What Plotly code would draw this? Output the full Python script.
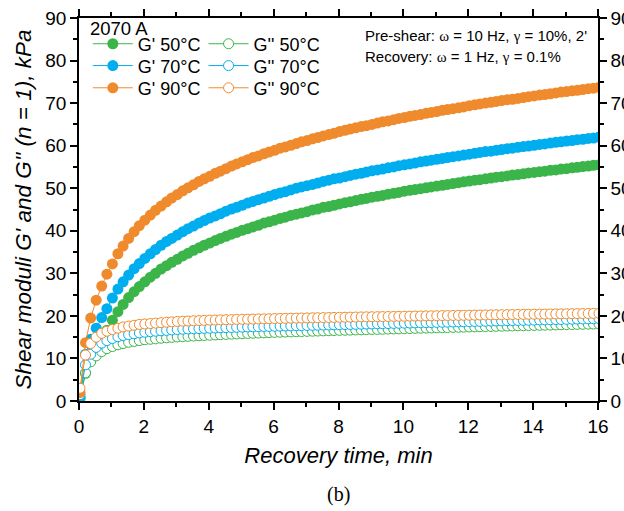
import plotly.graph_objects as go

# Recovery time, min
t = [0.03,0.20,0.36,0.53,0.70,0.86,1.03,1.20,1.36,1.53,1.70,1.86,2.03,2.20,2.36,2.53,2.70,2.86,
     3.03,3.20,3.36,3.53,3.70,3.86,4.03,4.20,4.36,4.53,4.70,4.86,5.03,5.20,5.36,5.53,5.70,5.86,
     6.03,6.20,6.36,6.53,6.70,6.86,7.03,7.20,7.36,7.53,7.70,7.86,8.03,8.20,8.36,8.53,8.70,8.86,
     9.03,9.20,9.36,9.53,9.70,9.86,10.03,10.20,10.36,10.53,10.70,10.86,11.03,11.20,11.36,11.53,11.70,11.86,
     12.03,12.20,12.36,12.53,12.70,12.86,13.03,13.20,13.36,13.53,13.70,13.86,14.03,14.20,14.36,14.53,14.70,14.86,
     15.03,15.20,15.36,15.53,15.70,15.86,16.03]

g1_50 = [0.5,6.5,9.5,11.8,14.2,16.6,
         19.0,21.0,22.7,24.3,25.7,26.9,
         28.0,29.1,30.0,31.0,31.8,32.6,
         33.3,34.1,34.7,35.4,36.0,36.6,
         37.1,37.7,38.2,38.7,39.2,39.6,
         40.1,40.5,40.9,41.3,41.8,42.1,
         42.5,42.9,43.2,43.6,43.9,44.2,
         44.5,44.9,45.1,45.5,45.7,46.0,
         46.3,46.6,46.8,47.1,47.4,47.6,
         47.9,48.1,48.3,48.6,48.8,49.0,
         49.3,49.5,49.7,49.9,50.1,50.3,
         50.5,50.7,50.9,51.1,51.3,51.5,
         51.7,51.9,52.0,52.2,52.4,52.6,
         52.7,52.9,53.1,53.2,53.4,53.6,
         53.7,53.9,54.0,54.2,54.3,54.5,
         54.6,54.8,54.9,55.1,55.2,55.4,
         55.5]

g2_50 = [0.8,6.6,9.2,10.6,11.6,12.3,
         12.8,13.2,13.5,13.8,14.0,14.2,
         14.4,14.5,14.6,14.75,14.85,14.95,
         15.05,15.12,15.19,15.26,15.33,15.4,
         15.46,15.52,15.58,15.64,15.7,15.76,
         15.82,15.87,15.92,15.97,16.02,16.07,
         16.12,16.16,16.2,16.24,16.28,16.32,
         16.36,16.4,16.44,16.48,16.52,16.56,
         16.6,16.63,16.66,16.7,16.73,16.76,
         16.8,16.83,16.86,16.9,16.93,16.96,
         17.0,17.03,17.06,17.1,17.13,17.16,
         17.2,17.23,17.26,17.3,17.33,17.36,
         17.4,17.43,17.46,17.49,17.52,17.55,
         17.58,17.61,17.64,17.67,17.7,17.73,
         17.76,17.79,17.82,17.85,17.88,17.91,
         17.94,17.97,18.0,18.03,18.06,18.09,
         18.12]

g1_70 = [1.0,11.0,14.5,17.1,19.6,21.7,
         24.2,26.3,28.0,29.6,31.1,32.3,
         33.5,34.6,35.6,36.6,37.5,38.2,
         39.0,39.8,40.5,41.1,41.8,42.4,
         43.0,43.5,44.0,44.6,45.1,45.5,
         46.0,46.5,46.9,47.3,47.7,48.1,
         48.5,48.9,49.2,49.6,50.0,50.3,
         50.6,50.9,51.2,51.6,51.9,52.2,
         52.4,52.7,53.0,53.3,53.5,53.8,
         54.1,54.3,54.5,54.8,55.0,55.3,
         55.5,55.7,55.9,56.2,56.4,56.6,
         56.8,57.0,57.2,57.4,57.6,57.8,
         58.0,58.2,58.4,58.6,58.7,58.9,
         59.1,59.3,59.4,59.6,59.8,59.9,
         60.1,60.3,60.4,60.6,60.8,60.9,
         61.1,61.2,61.4,61.5,61.7,61.8,
         62.0]

g2_70 = [1.5,8.5,11.0,12.6,13.6,14.2,
         14.7,15.1,15.4,15.6,15.8,16.0,
         16.15,16.3,16.4,16.5,16.6,16.7,
         16.8,16.86,16.92,16.97,17.02,17.07,
         17.1,17.15,17.2,17.24,17.28,17.32,
         17.36,17.4,17.43,17.46,17.5,17.53,
         17.56,17.6,17.63,17.66,17.69,17.72,
         17.75,17.78,17.81,17.84,17.87,17.9,
         17.93,17.96,17.99,18.02,18.05,18.08,
         18.11,18.14,18.17,18.2,18.23,18.26,
         18.29,18.32,18.35,18.38,18.41,18.44,
         18.47,18.5,18.53,18.56,18.59,18.62,
         18.65,18.68,18.71,18.74,18.77,18.8,
         18.83,18.86,18.89,18.92,18.95,18.98,
         19.01,19.04,19.07,19.1,19.13,19.16,
         19.19,19.22,19.25,19.28,19.31,19.34,
         19.37]

g1_90 = [2.0,13.7,19.5,23.7,27.0,29.8,
         32.2,34.6,36.4,38.2,39.8,41.2,
         42.5,43.7,44.8,45.8,46.8,47.7,
         48.5,49.4,50.1,50.8,51.6,52.2,
         52.8,53.5,54.0,54.6,55.2,55.7,
         56.2,56.7,57.2,57.6,58.1,58.5,
         58.9,59.4,59.7,60.1,60.5,60.9,
         61.2,61.6,61.9,62.3,62.6,62.9,
         63.3,63.6,63.9,64.2,64.5,64.7,
         65.0,65.3,65.6,65.8,66.1,66.4,
         66.6,66.9,67.1,67.3,67.6,67.8,
         68.0,68.3,68.5,68.7,68.9,69.1,
         69.4,69.6,69.8,70.0,70.2,70.4,
         70.6,70.8,70.9,71.1,71.3,71.5,
         71.7,71.9,72.0,72.2,72.4,72.6,
         72.7,72.9,73.0,73.2,73.4,73.5,
         73.7]

g2_90 = [3.0,10.8,13.5,15.0,15.9,16.4,
         16.8,17.1,17.4,17.6,17.8,18.0,
         18.1,18.2,18.3,18.4,18.5,18.6,
         18.7,18.75,18.8,18.85,18.9,18.95,
         19.0,19.03,19.07,19.1,19.13,19.17,
         19.2,19.22,19.25,19.28,19.3,19.33,
         19.37,19.4,19.42,19.45,19.47,19.5,
         19.52,19.55,19.57,19.6,19.62,19.64,
         19.67,19.69,19.71,19.73,19.76,19.78,
         19.8,19.82,19.84,19.86,19.88,19.9,
         19.92,19.94,19.96,19.98,20.0,20.02,
         20.04,20.06,20.08,20.1,20.12,20.14,
         20.16,20.18,20.2,20.22,20.24,20.26,
         20.28,20.3,20.32,20.34,20.35,20.37,
         20.39,20.41,20.42,20.44,20.46,20.48,
         20.5,20.52,20.53,20.55,20.57,20.58,
         20.6]

# name, values, colour, filled, legend id, legend column, legend row
series = [
    ("G' 50°C", g1_50, "#3BB54A", True, "legend", 0, 0),
    ("G'' 50°C", g2_50, "#3BB54A", False, "legend2", 1, 0),
    ("G' 70°C", g1_70, "#00AEEF", True, "legend3", 0, 1),
    ("G'' 70°C", g2_70, "#00AEEF", False, "legend4", 1, 1),
    ("G' 90°C", g1_90, "#F08B2D", True, "legend5", 0, 2),
    ("G'' 90°C", g2_90, "#F08B2D", False, "legend6", 1, 2),
]

FONT = "Liberation Sans, Arial, sans-serif"
LEG_X = [0.017, 0.24]
LEG_Y = [0.932, 0.875, 0.817]

fig = go.Figure()
legends = {}
for name, ys, col, filled, lg, cx, ry in series:
    if filled:
        marker = dict(symbol="circle", size=11, color=col, line=dict(width=0))
    else:
        marker = dict(symbol="circle", size=10, color="white", line=dict(width=1, color=col))
    fig.add_trace(go.Scatter(x=t, y=ys, name=name, mode="lines+markers",
                             line=dict(color=col, width=1), marker=marker,
                             legend=lg))
    legends[lg] = dict(x=LEG_X[cx], y=LEG_Y[ry], xanchor="left", yanchor="middle",
                       bgcolor="rgba(0,0,0,0)", borderwidth=0,
                       font=dict(family=FONT, size=18, color="black"), itemwidth=40)

# dummy trace to enable right axis
fig.add_trace(go.Scatter(x=[None], y=[None], yaxis="y2", showlegend=False))

axis_common = dict(showline=True, linecolor="black", linewidth=1.5,
                   ticks="outside", tickcolor="black", tickwidth=1.5, ticklen=7,
                   showgrid=False, zeroline=False,
                   tickfont=dict(family=FONT, size=19, color="black"))
minor_common = dict(ticks="outside", ticklen=4, tickcolor="black", tickwidth=1.5)

fig.update_layout(
    width=624, height=511,
    margin=dict(l=79, r=26, t=18, b=110, autoexpand=False),
    plot_bgcolor="white", paper_bgcolor="white",
    xaxis=dict(range=[0, 16], dtick=2, mirror="ticks",
               minor=dict(dtick=1, **minor_common),
               title=dict(text="<i>Recovery time, min</i>", font=dict(family=FONT, size=22, color="black"), standoff=12),
               automargin=False, **axis_common),
    yaxis=dict(range=[0, 90], dtick=10,
               minor=dict(dtick=5, **minor_common),
               title=dict(text="<i>Shear moduli G' and G'' (n = 1), kPa</i>", font=dict(family=FONT, size=22.5, color="black"), standoff=7),
               automargin=False, **axis_common),
    yaxis2=dict(range=[0, 90], dtick=10, overlaying="y", side="right",
                minor=dict(dtick=5, **minor_common),
                automargin=False, **axis_common),
    annotations=[
        dict(text="2070 A", x=0.017, y=1.006, xref="paper", yref="paper", xanchor="left", yanchor="top",
             showarrow=False, font=dict(family=FONT, size=18.5, color="black")),
        dict(text="Pre-shear: <span style='font-family:Liberation Serif'>ω</span> = 10 Hz, <span style='font-family:Liberation Serif'>γ</span> = 10%, 2'",
             x=0.547, y=0.983, xref="paper", yref="paper", xanchor="left", yanchor="top",
             showarrow=False, font=dict(family=FONT, size=15, color="black")),
        dict(text="Recovery: <span style='font-family:Liberation Serif'>ω</span> = 1 Hz, <span style='font-family:Liberation Serif'>γ</span> = 0.1%",
             x=0.547, y=0.928, xref="paper", yref="paper", xanchor="left", yanchor="top",
             showarrow=False, font=dict(family=FONT, size=15, color="black")),
        dict(text="(b)", x=0.5, y=-0.243, xref="paper", yref="paper", xanchor="center", yanchor="middle",
             showarrow=False, font=dict(family="Liberation Serif, Times New Roman, serif", size=20, color="black")),
    ],
    **legends,
)

fig.write_html("out.html")
